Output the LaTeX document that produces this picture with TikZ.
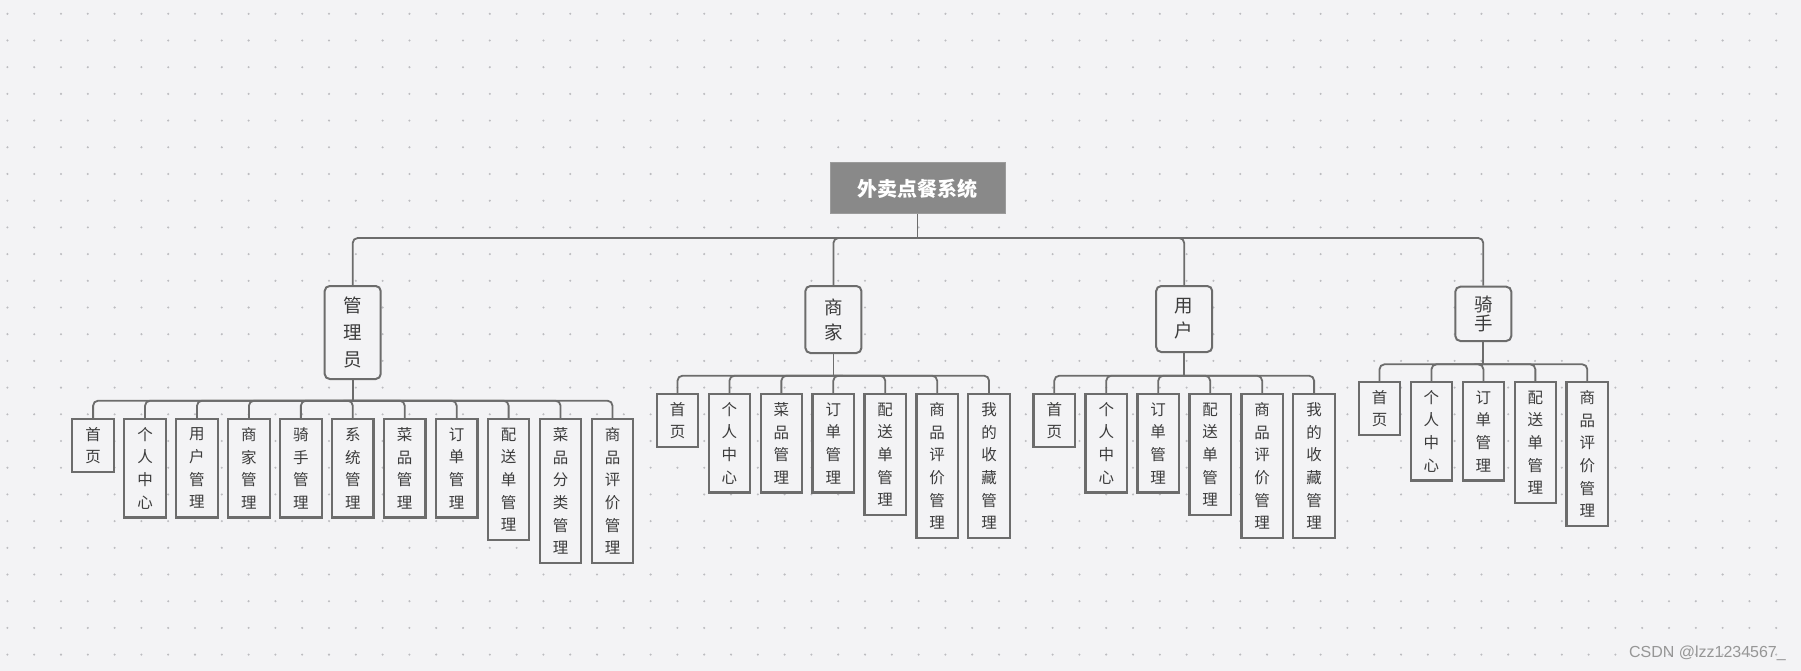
\documentclass[tikz,border=0pt]{standalone}
\usepackage{fontspec}
\setmainfont{Noto Sans CJK SC}
\newfontfamily\markfont{Liberation Sans}
\usepackage{xcolor}
\definecolor{canvasbg}{RGB}{243,243,245}
\definecolor{dotgray}{RGB}{188,188,192}
\definecolor{linegray}{RGB}{108,108,108}
\definecolor{rootgray}{RGB}{137,137,137}
\definecolor{textgray}{RGB}{60,60,60}
\definecolor{markgray}{RGB}{150,150,150}

\begin{document}
\begin{tikzpicture}[x=1pt, y=-1pt,
  conn/.style={draw=linegray, line width=1.8pt, rounded corners=5pt},
  rootbox/.style={fill=rootgray, draw=rootgray!85!white, line width=1pt, minimum width=175, minimum height=51,
    inner sep=0pt, text=white, font=\fontsize{20}{24}\selectfont\bfseries},
  rolebox/.style={draw=linegray, line width=2pt, rounded corners=5pt, fill=canvasbg, minimum width=56,
    anchor=north, align=center, inner sep=0pt, text=textgray},
  leafbox/.style={draw=linegray, line width=2.2pt, fill=canvasbg, minimum width=41.5, minimum height={7.6+22.7*#1},
    anchor=north, align=center, inner sep=0pt, text=textgray, font=\fontsize{15.5}{22.7}\selectfont}]
  \fill[canvasbg] (0,0) rectangle (1801,671);
  \useasboundingbox (0,0) rectangle (1801,671);

  % 画布点阵
  \foreach \dx in {0,...,66}
    \foreach \dy in {0,...,24}
      \fill[dotgray] (7.4+26.8*\dx, 13.8+26.7*\dy) circle (1.15);

  % 根节点
  \node[rootbox] (root) at (917.5,188.5) {外卖点餐系统};

  % 四类角色
  \node[rolebox, minimum height=93, font=\fontsize{18.5}{26.7}\selectfont] (admin) at (352.7,285) {管\\理\\员};
  \node[rolebox, minimum height=67, font=\fontsize{18.5}{25}\selectfont] (shop) at (833.4,285) {商\\家};
  \node[rolebox, minimum height=66, font=\fontsize{18.5}{25}\selectfont] (user) at (1184.2,285) {用\\户};
  \node[rolebox, minimum height=54.3, font=\fontsize{18.5}{18.3}\selectfont] (rider) at (1483.3,285.7) {骑\\手};

  \coordinate (rootbus) at (917.5,238);
  \draw[conn] (root.south) -- (rootbus);
  \foreach \r in {admin,shop,user,rider}
    \draw[conn] (rootbus) -| (\r.north);

  % 管理员功能
  \foreach \n/\t [count=\i from 0] in {2/{首\\页}, 4/{个\\人\\中\\心}, 4/{用\\户\\管\\理}, 4/{商\\家\\管\\理},
      4/{骑\\手\\管\\理}, 4/{系\\统\\管\\理}, 4/{菜\\品\\管\\理}, 4/{订\\单\\管\\理}, 5/{配\\送\\单\\管\\理},
      6/{菜\\品\\分\\类\\管\\理}, 6/{商\\品\\评\\价\\管\\理}}
    \node[leafbox=\n] (admin\i) at (93.1+51.94*\i,418) {\t};
  \coordinate (adminbus) at (352.7,400.7);
  \draw[conn] (admin.south) -- (adminbus);
  \foreach \i in {0,...,10}
    \draw[conn] (adminbus) -| (admin\i.north);

  % 商家功能
  \foreach \n/\t [count=\i from 0] in {2/{首\\页}, 4/{个\\人\\中\\心}, 4/{菜\\品\\管\\理}, 4/{订\\单\\管\\理},
      5/{配\\送\\单\\管\\理}, 6/{商\\品\\评\\价\\管\\理}, 6/{我\\的\\收\\藏\\管\\理}}
    \node[leafbox=\n] (shop\i) at (677.5+51.93*\i,393) {\t};
  \coordinate (shopbus) at (833.4,375.7);
  \draw[conn] (shop.south) -- (shopbus);
  \foreach \i in {0,...,6}
    \draw[conn] (shopbus) -| (shop\i.north);

  % 用户功能
  \foreach \n/\t [count=\i from 0] in {2/{首\\页}, 4/{个\\人\\中\\心}, 4/{订\\单\\管\\理},
      5/{配\\送\\单\\管\\理}, 6/{商\\品\\评\\价\\管\\理}, 6/{我\\的\\收\\藏\\管\\理}}
    \node[leafbox=\n] (user\i) at (1054.3+51.96*\i,393) {\t};
  \coordinate (userbus) at (1184.2,375.7);
  \draw[conn] (user.south) -- (userbus);
  \foreach \i in {0,...,5}
    \draw[conn] (userbus) -| (user\i.north);

  % 骑手功能
  \foreach \n/\t [count=\i from 0] in {2/{首\\页}, 4/{个\\人\\中\\心}, 4/{订\\单\\管\\理},
      5/{配\\送\\单\\管\\理}, 6/{商\\品\\评\\价\\管\\理}}
    \node[leafbox=\n] (rider\i) at (1379.5+51.95*\i,381) {\t};
  \coordinate (riderbus) at (1483.3,364.3);
  \draw[conn] (rider.south) -- (riderbus);
  \foreach \i in {0,...,4}
    \draw[conn] (riderbus) -| (rider\i.north);

  % 水印
  \node[font=\markfont\fontsize{16}{19}\selectfont, text=markgray, anchor=east, inner sep=0pt] (mark) at (1786,653) {CSDN @lzz1234567\_};
\end{tikzpicture}
\end{document}
